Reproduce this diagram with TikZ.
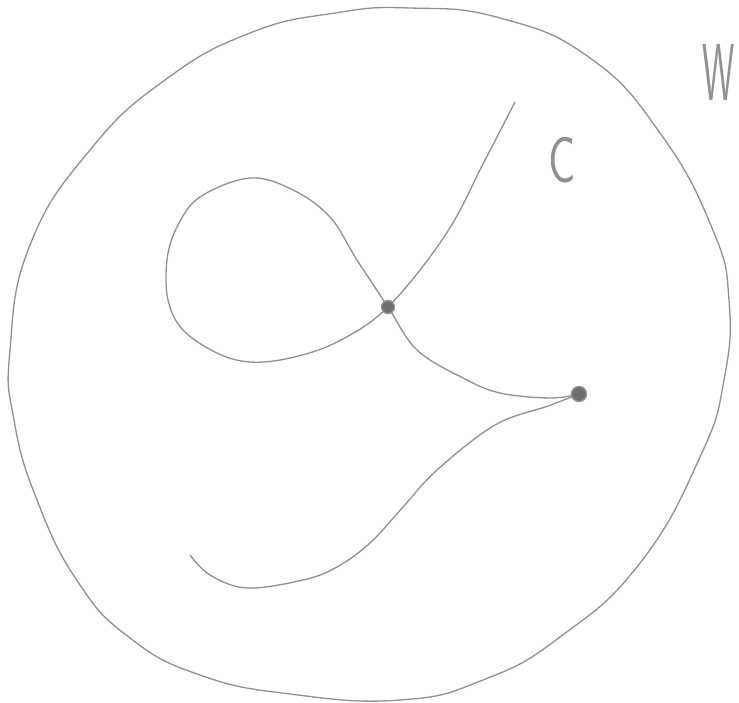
\documentclass[tikz,border=0pt]{standalone}

\definecolor{pencil}{RGB}{145,145,145}
\definecolor{lead}{RGB}{112,112,112}

\begin{document}
\begin{tikzpicture}[x=0.02cm, y=-0.02cm, line width=0.75pt, draw=pencil]
    % Sheet frame
    \useasboundingbox (0,0) rectangle (739,702);
    \clip (0,0) rectangle (739,702);

    % Define the marked points of the curve
    \coordinate (P) at (388,307); % double point
    \coordinate (Q) at (579,394); % end point
    \coordinate (T) at (515,102); % upper free end
    \coordinate (H) at (190,555); % lower free end

    % Draw the boundary of the region W
    \draw plot[smooth cycle, tension=0.8] coordinates {
        (410,8) (500,18) (590,58) (660,133) (712,228)
        (729,300) (724,380) (700,457) (640,563) (560,637) (483,680)
        (400,700) (290,694) (200,675) (130,638) (78,582) (37,500)
        (14,420) (10,350) (30,245) (90,150) (165,80) (250,33) (335,13)};

    % Draw the curve C with its loop through P
    \draw plot[smooth, tension=0.6] coordinates {
        (T) (484,162) (446,234) (P)
        (337,342) (290,358) (250,362) (217,353) (183,330) (168,300)
        (167,260) (177,227) (200,197) (250,178) (293,190) (330,217)
        (357,260) (P) (417,350) (463,378) (500,393) (550,398) (Q)};

    % Draw the second branch from Q
    \draw plot[smooth, tension=0.6] coordinates {
        (Q) (548,406) (495,425) (437,470) (403,507) (370,543)
        (337,567) (303,580) (247,588) (210,575) (H)};

    % Place the dots and labels
    \node[circle, fill=lead, draw=pencil, inner sep=0pt, minimum size=0.26cm] (p) at (P) {};
    \node[circle, fill=lead, draw=pencil, inner sep=0pt, minimum size=0.3cm] (q) at (Q) {};
    \node[text=pencil, xscale=0.7, font=\sffamily\fontsize{37}{37}\selectfont] (c) at (562,160) {C};
    \node[text=pencil, xscale=0.45, font=\sffamily\fontsize{46}{46}\selectfont] (w) at (719,72) {W};
\end{tikzpicture}
\end{document}
